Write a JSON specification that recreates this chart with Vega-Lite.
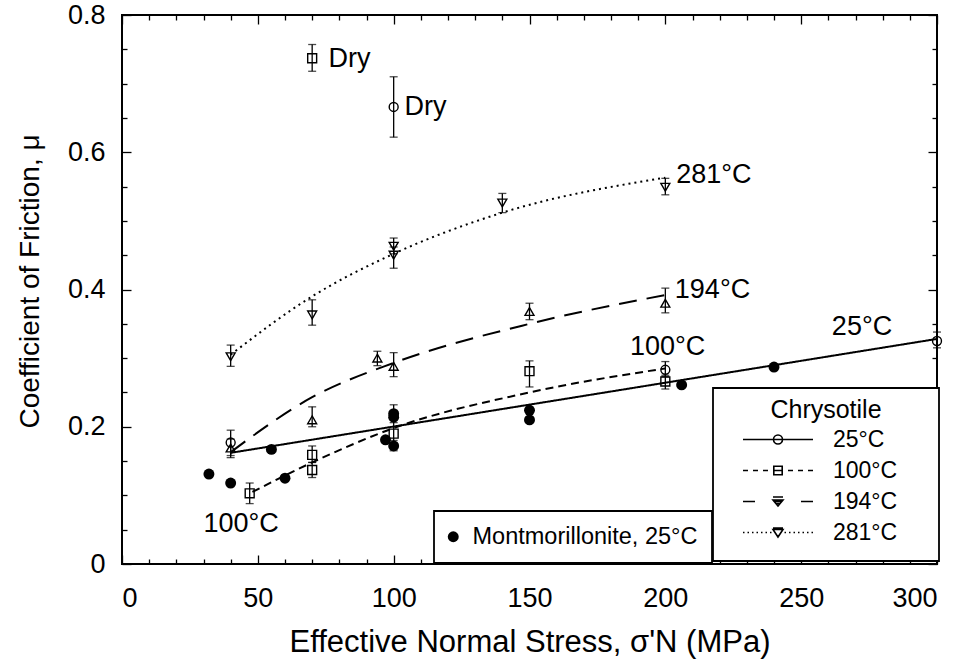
{
  "$schema": "https://vega.github.io/schema/vega-lite/v6.json",
  "width": 815,
  "height": 549,
  "autosize": "none",
  "padding": {"left": 122, "top": 15, "right": 27, "bottom": 107},
  "background": "white",
  "config": {
    "font": "Liberation Sans",
    "view": {"stroke": "black", "strokeWidth": 2},
    "axis": {"grid": false, "domain": false, "tickColor": "black", "tickWidth": 1.3, "labelColor": "black", "titleColor": "black", "labelFont": "Liberation Sans", "titleFont": "Liberation Sans", "titleFontWeight": "normal"},
    "legend": {"strokeWidth": 1.8, "labelFont": "Liberation Sans", "titleFont": "Liberation Sans"}
  },
  "datasets": {
    "fits": [
      {"series": "25°C", "x": 40, "mu": 0.162},
      {"series": "25°C", "x": 300, "mu": 0.328},
      {"series": "100°C", "x": 48, "mu": 0.105},
      {"series": "100°C", "x": 70, "mu": 0.148},
      {"series": "100°C", "x": 100, "mu": 0.198},
      {"series": "100°C", "x": 150, "mu": 0.25},
      {"series": "100°C", "x": 200, "mu": 0.285},
      {"series": "194°C", "x": 40, "mu": 0.163},
      {"series": "194°C", "x": 70, "mu": 0.243},
      {"series": "194°C", "x": 100, "mu": 0.293},
      {"series": "194°C", "x": 150, "mu": 0.35},
      {"series": "194°C", "x": 200, "mu": 0.392},
      {"series": "281°C", "x": 40, "mu": 0.305},
      {"series": "281°C", "x": 70, "mu": 0.39},
      {"series": "281°C", "x": 100, "mu": 0.452},
      {"series": "281°C", "x": 140, "mu": 0.512},
      {"series": "281°C", "x": 200, "mu": 0.563}
    ],
    "pts": [
      {"series": "25°C", "x": 40, "mu": 0.177, "lo": 0.155, "hi": 0.195},
      {"series": "25°C", "x": 200, "mu": 0.283, "lo": 0.273, "hi": 0.295},
      {"series": "25°C", "x": 300, "mu": 0.325, "lo": 0.315, "hi": 0.338},
      {"series": "25°C", "x": 100, "mu": 0.666, "lo": 0.622, "hi": 0.71},
      {"series": "100°C", "x": 47, "mu": 0.103, "lo": 0.088, "hi": 0.118},
      {"series": "100°C", "x": 70, "mu": 0.159, "lo": 0.148, "hi": 0.172},
      {"series": "100°C", "x": 70, "mu": 0.137, "lo": 0.126, "hi": 0.148},
      {"series": "100°C", "x": 100, "mu": 0.19, "lo": 0.17, "hi": 0.21},
      {"series": "100°C", "x": 150, "mu": 0.281, "lo": 0.258, "hi": 0.296},
      {"series": "100°C", "x": 200, "mu": 0.266, "lo": 0.255, "hi": 0.275},
      {"series": "100°C", "x": 70, "mu": 0.737, "lo": 0.718, "hi": 0.757},
      {"series": "194°C", "x": 40, "mu": 0.169, "lo": 0.158, "hi": 0.182},
      {"series": "194°C", "x": 70, "mu": 0.21, "lo": 0.2, "hi": 0.229},
      {"series": "194°C", "x": 94, "mu": 0.3, "lo": 0.289, "hi": 0.31},
      {"series": "194°C", "x": 100, "mu": 0.288, "lo": 0.273, "hi": 0.308},
      {"series": "194°C", "x": 150, "mu": 0.368, "lo": 0.356, "hi": 0.38},
      {"series": "194°C", "x": 200, "mu": 0.38, "lo": 0.366, "hi": 0.402},
      {"series": "281°C", "x": 40, "mu": 0.302, "lo": 0.288, "hi": 0.319},
      {"series": "281°C", "x": 70, "mu": 0.363, "lo": 0.348, "hi": 0.385},
      {"series": "281°C", "x": 100, "mu": 0.463, "lo": 0.452, "hi": 0.475},
      {"series": "281°C", "x": 100, "mu": 0.45, "lo": 0.431, "hi": 0.462},
      {"series": "281°C", "x": 140, "mu": 0.526, "lo": 0.512, "hi": 0.54},
      {"series": "281°C", "x": 200, "mu": 0.549, "lo": 0.538, "hi": 0.562},
      {"series": "Montmorillonite, 25°C", "x": 32, "mu": 0.131},
      {"series": "Montmorillonite, 25°C", "x": 40, "mu": 0.118},
      {"series": "Montmorillonite, 25°C", "x": 55, "mu": 0.167},
      {"series": "Montmorillonite, 25°C", "x": 60, "mu": 0.125},
      {"series": "Montmorillonite, 25°C", "x": 97, "mu": 0.181},
      {"series": "Montmorillonite, 25°C", "x": 100, "mu": 0.219, "lo": 0.206, "hi": 0.232},
      {"series": "Montmorillonite, 25°C", "x": 100, "mu": 0.214},
      {"series": "Montmorillonite, 25°C", "x": 100, "mu": 0.172, "lo": 0.165, "hi": 0.18},
      {"series": "Montmorillonite, 25°C", "x": 150, "mu": 0.224},
      {"series": "Montmorillonite, 25°C", "x": 150, "mu": 0.21},
      {"series": "Montmorillonite, 25°C", "x": 206, "mu": 0.261},
      {"series": "Montmorillonite, 25°C", "x": 240, "mu": 0.287}
    ],
    "notes": [
      {"label": "Dry", "x": 76, "mu": 0.736},
      {"label": "Dry", "x": 104, "mu": 0.666},
      {"label": "281°C", "x": 204, "mu": 0.567},
      {"label": "194°C", "x": 203.5, "mu": 0.4},
      {"label": "100°C", "x": 187, "mu": 0.316},
      {"label": "25°C", "x": 261.3, "mu": 0.345},
      {"label": "100°C", "x": 30, "mu": 0.058}
    ]
  },
  "layer": [
    {
      "data": {"name": "fits"},
      "mark": {"type": "line", "color": "black", "strokeWidth": 2, "interpolate": "monotone"},
      "encoding": {
        "x": {"field": "x", "type": "quantitative", "scale": {"domain": [0, 300], "nice": false, "zero": false},
          "axis": {"orient": "bottom", "values": [0,10,20,30,40,50,60,70,80,90,100,110,120,130,140,150,160,170,180,190,200,210,220,230,240,250,260,270,280,290,300], "format": "d",
            "labelExpr": "datum.value % 50 === 0 ? datum.label : ''",
            "tickSize": {"condition": {"test": "datum.value % 50 === 0", "value": -9}, "value": -5},
            "labelFontSize": 27, "labelPadding": 30,
            "title": "Effective Normal Stress, σ'N  (MPa)", "titleFontSize": 31, "titlePadding": 16}},
        "y": {"field": "mu", "type": "quantitative", "scale": {"domain": [0, 0.8], "nice": false},
          "axis": {"orient": "left", "values": [0,0.05,0.1,0.15,0.2,0.25,0.3,0.35,0.4,0.45,0.5,0.55,0.6,0.65,0.7,0.75,0.8],
            "labelExpr": "round(datum.value*20) % 4 === 0 ? (datum.value === 0 ? '0' : format(datum.value, '.1f')) : ''",
            "tickSize": {"condition": {"test": "round(datum.value*20) % 4 === 0", "value": -9}, "value": -5},
            "labelFontSize": 27, "labelPadding": 26,
            "title": "Coefficient of Friction, μ", "titleFontSize": 28, "titlePadding": 23, "titleY": 266}},
        "strokeDash": {"field": "series", "type": "nominal",
          "scale": {"domain": ["25°C", "100°C", "194°C", "281°C"], "range": [[1, 0], [8, 5], [18, 10], [2, 4]]},
          "legend": null}
      }
    },
    {
      "data": {"name": "pts"},
      "transform": [{"filter": "isValid(datum.lo)"}],
      "mark": {"type": "errorbar", "ticks": true, "size": 8, "thickness": 1.3, "color": "black"},
      "encoding": {
        "x": {"field": "x", "type": "quantitative", "axis": null},
        "y": {"field": "lo", "type": "quantitative", "axis": null},
        "y2": {"field": "hi"}
      }
    },
    {
      "data": {"name": "pts"},
      "transform": [{"filter": "datum.series !== 'Montmorillonite, 25°C'"}],
      "mark": {"type": "point", "filled": false, "color": "black", "strokeWidth": 1.4, "size": 80, "opacity": 1},
      "encoding": {
        "x": {"field": "x", "type": "quantitative",
          "axis": {"orient": "top", "values": [0,10,20,30,40,50,60,70,80,90,100,110,120,130,140,150,160,170,180,190,200,210,220,230,240,250,260,270,280,290,300], "labels": false, "title": null,
            "tickSize": {"condition": {"test": "datum.value % 50 === 0", "value": -9}, "value": -5}}},
        "y": {"field": "mu", "type": "quantitative",
          "axis": {"orient": "right", "values": [0,0.05,0.1,0.15,0.2,0.25,0.3,0.35,0.4,0.45,0.5,0.55,0.6,0.65,0.7,0.75,0.8], "labels": false, "title": null,
            "tickSize": {"condition": {"test": "round(datum.value*20) % 4 === 0", "value": -9}, "value": -5}}},
        "shape": {"field": "series", "type": "nominal",
          "scale": {"domain": ["25°C", "100°C", "194°C", "281°C"], "range": ["circle", "square", "triangle-up", "triangle-down"]},
          "legend": null}
      }
    },
    {
      "data": {"name": "pts"},
      "transform": [{"filter": "datum.series === 'Montmorillonite, 25°C'"}],
      "mark": {"type": "point", "filled": true, "color": "black", "size": 120, "opacity": 1},
      "encoding": {
        "x": {"field": "x", "type": "quantitative", "axis": null},
        "y": {"field": "mu", "type": "quantitative", "axis": null},
        "shape": {"field": "series", "type": "nominal",
          "scale": {"domain": ["Montmorillonite, 25°C"], "range": ["circle"]},
          "legend": {"orient": "none", "legendX": 312, "legendY": 496, "title": null,
            "padding": 14, "strokeColor": "black", "fillColor": "white",
            "labelFontSize": 23.5, "labelColor": "black", "labelOffset": 7.5, "symbolOffset": -6.5, "labelLimit": 600,
            "symbolSize": 120, "symbolFillColor": "black", "symbolStrokeColor": "black", "symbolOpacity": 1}}
      }
    },
    {
      "data": {"name": "pts"},
      "transform": [{"filter": "datum.series !== 'Montmorillonite, 25°C'"}],
      "mark": {"type": "point", "filled": false, "color": "black", "opacity": 0},
      "encoding": {
        "x": {"field": "x", "type": "quantitative", "axis": null},
        "y": {"field": "mu", "type": "quantitative", "axis": null},
        "shape": {"field": "series", "type": "nominal",
          "scale": {"domain": ["25°C", "100°C", "194°C", "281°C"],
            "range": [
              "M-3.5,0L3.5,0M0.45,0A0.45,0.45,0,1,1,-0.45,0A0.45,0.45,0,1,1,0.45,0M14.7,0",
              "M-3.5,0L-3,0M-2.5,0L-2,0M-1.5,0L-1,0M1,0L1.5,0M2,0L2.5,0M3,0L3.5,0M-0.42,-0.42L0.42,-0.42L0.42,0.42L-0.42,0.42ZM-0.42,0L0.42,0M14.7,0",
              "M-3.5,0L-2.3,0M2.3,0L3.5,0M-0.5,-0.45L0.5,-0.45M-0.5,-0.15L0.5,-0.15L0,0.45ZM-0.33,0L0.33,0M-0.18,0.2L0.18,0.2M14.7,0",
              "M-3.5,0L-3.35,0M-3.05,0L-2.9,0M-2.6,0L-2.45,0M-2.15,0L-2,0M-1.7,0L-1.55,0M-1.25,0L-1.1,0M-0.8,0L-0.65,0M0.65,0L0.8,0M1.1,0L1.25,0M1.55,0L1.7,0M2,0L2.15,0M2.45,0L2.6,0M2.9,0L3.05,0M3.35,0L3.5,0M-0.5,-0.45L0.5,-0.45M-0.5,-0.3L0.5,-0.3L0,0.45ZM14.7,0M0,1.5"
            ]},
          "legend": {"orient": "none", "legendX": 591, "legendY": 373, "title": "Chrysotile", "titleAnchor": "middle",
            "titleFontSize": 25, "titleFontWeight": "normal", "titleColor": "black", "titlePadding": 5,
            "padding": 10, "strokeColor": "black", "fillColor": "white",
            "labelFontSize": 23, "labelColor": "black", "labelOffset": 43.5, "symbolOffset": 43.5,
            "symbolSize": 400, "symbolStrokeWidth": 1.6, "symbolStrokeColor": "black", "symbolFillColor": "transparent", "symbolOpacity": 1,
            "rowPadding": 7}}
      }
    },
    {
      "data": {"name": "notes"},
      "mark": {"type": "text", "align": "left", "baseline": "middle", "fontSize": 27, "color": "black", "font": "Liberation Sans"},
      "encoding": {
        "x": {"field": "x", "type": "quantitative", "axis": null},
        "y": {"field": "mu", "type": "quantitative", "axis": null},
        "text": {"field": "label"}
      }
    }
  ],
  "resolve": {"scale": {"shape": "independent"}, "axis": {"x": "independent", "y": "independent"}}
}
